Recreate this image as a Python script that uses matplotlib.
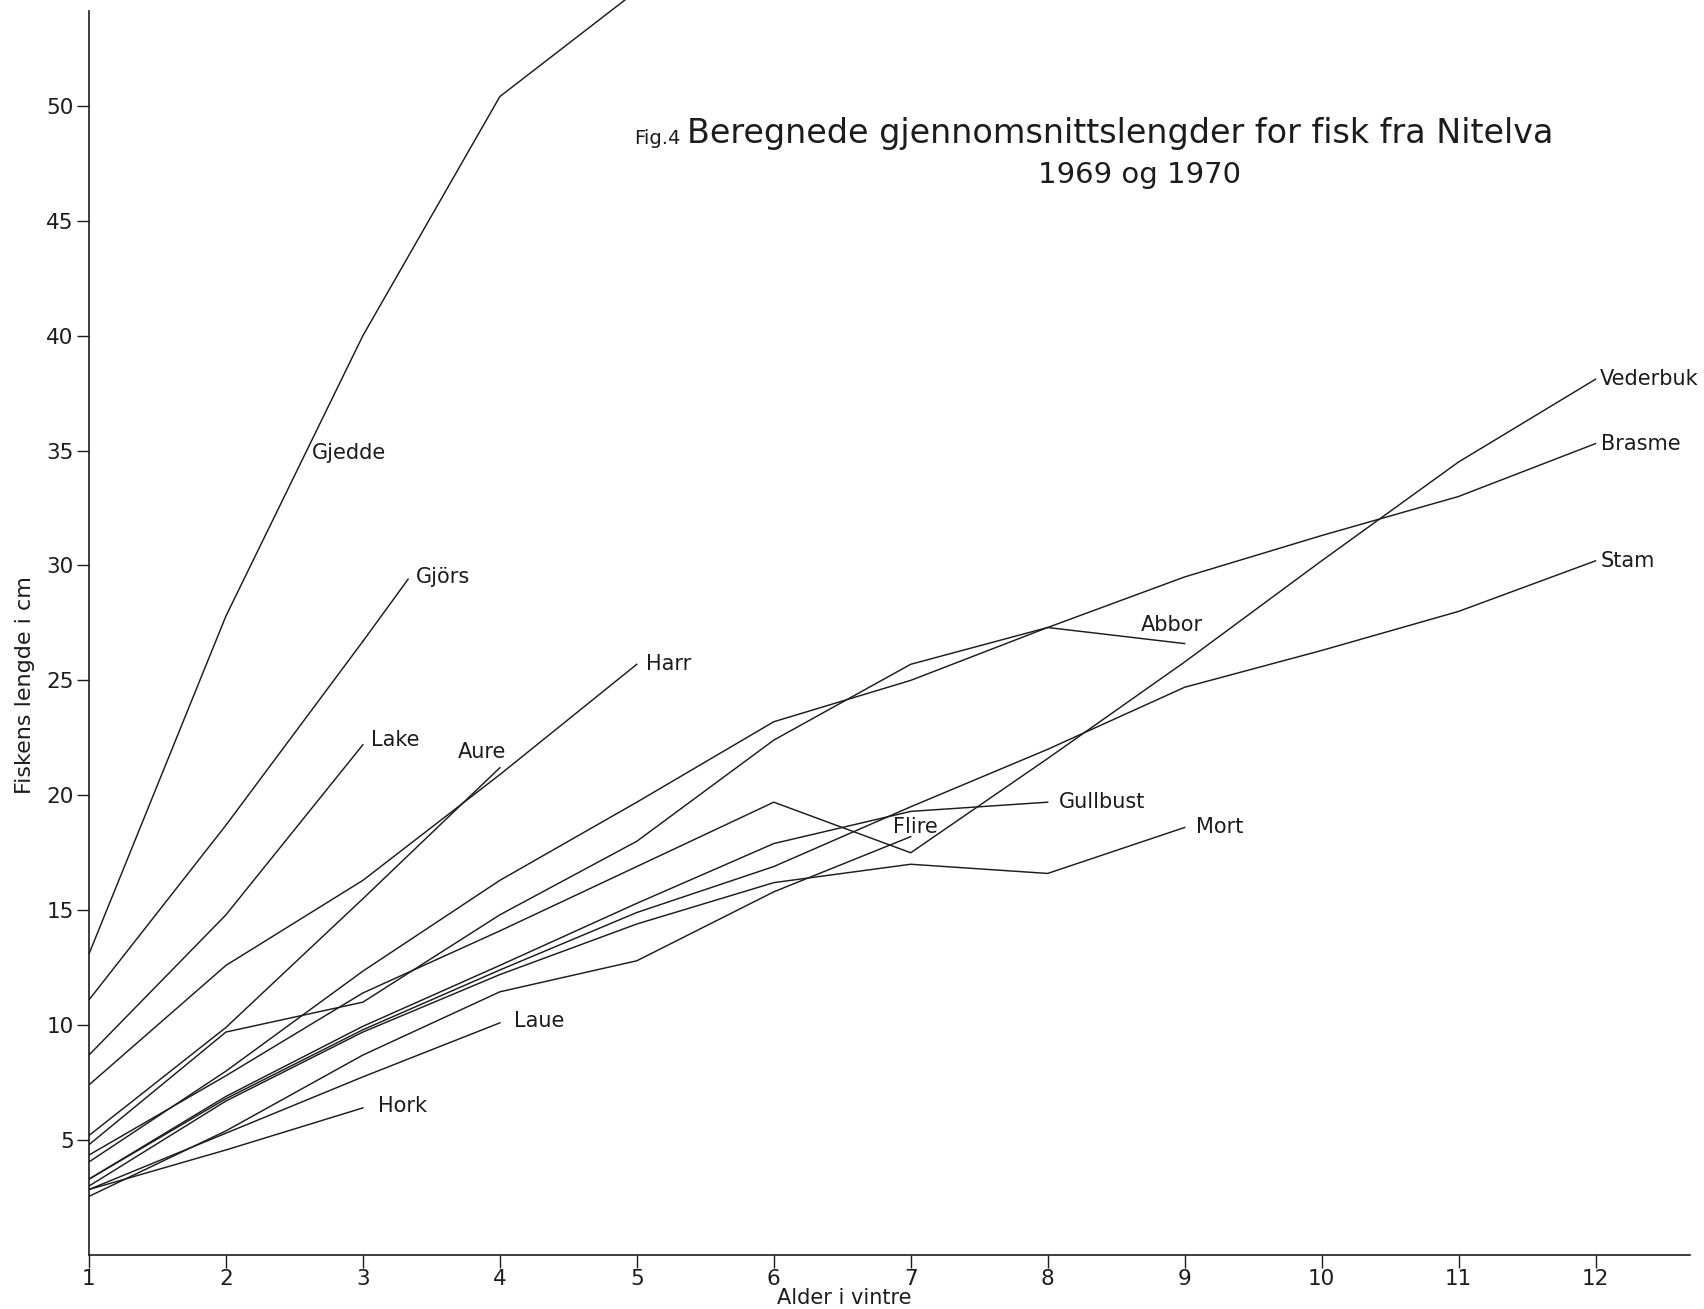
import matplotlib
matplotlib.use("Agg")
import matplotlib.pyplot as plt

# beregnede gjennomsnittslengder (cm) per alder i vintre
gjedde = [13.1, 27.8, 40.0, 50.4, 55.0]
gjors = [11.1, 18.7, 26.7]
lake = [8.7, 14.8, 22.2]
harr = [7.4, 12.6, 16.3, 20.9, 25.7]
aure = [5.2, 9.9, 15.5, 21.2]
brasme = [4.8, 9.7, 11.0, 14.8, 18.0, 22.4, 25.7, 27.3, 29.5, 31.3, 33.0, 35.3]
abbor = [4.05, 8.0, 12.35, 16.3, 19.7, 23.2, 25.0, 27.3, 26.6]
vederbuk = [4.35, 7.8, 11.4, 14.1, 16.9, 19.7, 17.5, 21.6, 25.8, 30.2, 34.5, 38.1]
stam = [3.3, 6.8, 9.8, 12.4, 14.9, 16.9, 19.5, 22.0, 24.7, 26.3, 28.0, 30.2]
gullbust = [3.3, 6.9, 9.95, 12.6, 15.3, 17.9, 19.3, 19.7]
mort = [3.0, 6.7, 9.7, 12.2, 14.4, 16.2, 17.0, 16.6, 18.6]
flire = [2.55, 5.4, 8.7, 11.45, 12.8, 15.8, 18.2]
laue = [2.85, 5.3, 7.75, 10.1]
hork = [2.85, 4.57, 6.4]

series = [
    ("Gjedde", gjedde), ("Gjörs", gjors), ("Lake", lake), ("Harr", harr),
    ("Aure", aure), ("Brasme", brasme), ("Abbor", abbor), ("Vederbuk", vederbuk),
    ("Stam", stam), ("Gullbust", gullbust), ("Mort", mort), ("Flire", flire),
    ("Laue", laue), ("Hork", hork),
]

# where the names are written (alder, cm)
label_pos = {
    "Gjedde": (2.63, 34.9), "Gjörs": (3.39, 29.5), "Lake": (3.06, 22.4),
    "Aure": (3.69, 21.9), "Harr": (5.07, 25.7), "Abbor": (8.68, 27.4),
    "Vederbuk": (12.03, 38.1), "Brasme": (12.04, 35.3), "Stam": (12.04, 30.2),
    "Gullbust": (8.08, 19.7), "Flire": (6.87, 18.6), "Mort": (9.08, 18.6),
    "Laue": (4.1, 10.2), "Hork": (3.11, 6.5),
}
# Gjörs has a short leader out to its name
gjors_leader = (3.33, 29.4)

W, H = 1704, 1309
fig = plt.figure(figsize=(W / 100, H / 100), dpi=100)
ax = fig.add_axes([89 / W, 54 / H, (1690 - 89) / W, 1 - 54 / H])

ink = "#1c1c1c"
for name, vals in series:
    ages = list(range(1, len(vals) + 1))
    ax.plot(ages, vals, color=ink, lw=1.05)
ax.plot([3, gjors_leader[0]], [gjors[-1], gjors_leader[1]], color=ink, lw=1.05)

for name, (lx, ly) in label_pos.items():
    ax.text(lx, ly, name, fontsize=15, color=ink, ha="left", va="center")

ax.set_xlim(1, 12.69)
ax.set_ylim(0, 54.6)
ax.set_xticks(range(1, 13))
ax.set_yticks(range(5, 55, 5))
for s in ["top", "right"]:
    ax.spines[s].set_visible(False)
ax.spines["left"].set_bounds(0, 54.1)
for s in ["left", "bottom"]:
    ax.spines[s].set_color(ink)
    ax.spines[s].set_linewidth(1.2)

ax.tick_params(direction="out", length=9, width=1, colors=ink, labelsize=15.5, pad=2)
ax.tick_params(axis="x", pad=1)

ax.set_ylabel("Fiskens lengde i cm", fontsize=16, color=ink)
ax.yaxis.set_label_coords(-0.034, 0.454)
ax.set_xlabel("Alder i vintre", fontsize=15, color=ink)
ax.xaxis.set_label_coords(0.472, -0.0262)

fig.text(634 / W, 1 - 138 / H, "Fig.4", fontsize=14, color=ink, ha="left", va="center")
fig.text(687 / W, 1 - 133 / H, "Beregnede gjennomsnittslengder for fisk fra Nitelva",
         fontsize=24, color=ink, ha="left", va="center")
fig.text(1140 / W, 1 - 175 / H, "1969 og 1970", fontsize=21, color=ink, ha="center", va="center")

fig.savefig("out.png", dpi=100)
